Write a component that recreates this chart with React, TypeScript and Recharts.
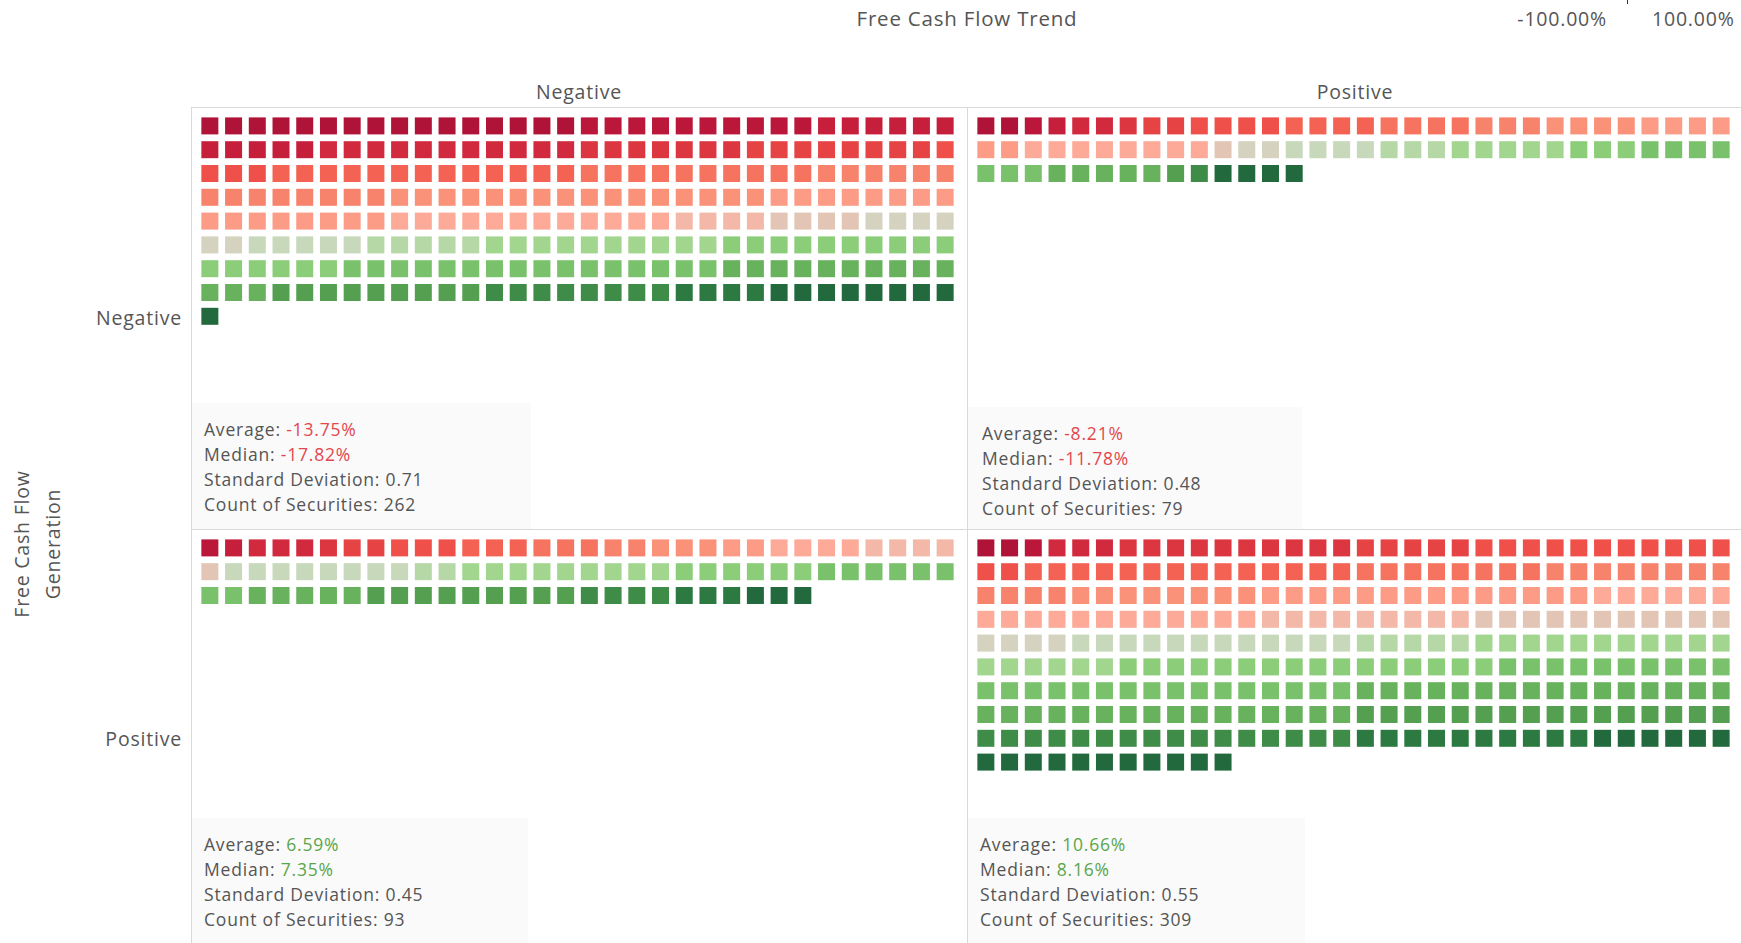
import React from 'react';
import { ScatterChart, Scatter, XAxis, YAxis, Cell } from 'recharts';

// colour bins, darkest red (most negative return) to darkest green
const BIN_COLORS = [
    '#b01338', '#bb173a', '#c61f3c', '#d12a3e', '#dc3640', '#e64344',
    '#ef5049', '#f36252', '#f6735f', '#f8836c', '#fa9179', '#fc9c86',
    '#fdaa98', '#f3b8a7', '#e2c5b4', '#d5d2bf', '#c8d8bb', '#b6d8a6',
    '#a2d68f', '#8ccd7a', '#7ac16b', '#68b15d', '#55a050', '#3f8c48',
    '#2c7a41', '#226a3d',
];

// securities per colour bin, per panel (generation / trend)
const NEG_NEG = [16, 10, 11, 11, 7, 8, 4, 13, 10, 14, 16, 16, 12, 4, 4, 6, 5, 5, 10, 16, 16, 13, 9, 8, 4, 9];
const NEG_POS = [2, 1, 1, 2, 1, 2, 4, 4, 4, 3, 4, 6, 8, 0, 1, 2, 4, 3, 5, 3, 7, 5, 1, 1, 0, 4];
const POS_NEG = [0, 1, 1, 3, 1, 2, 3, 3, 3, 2, 3, 2, 4, 4, 1, 0, 8, 2, 9, 6, 8, 5, 9, 4, 3, 3];
const POS_POS = [2, 1, 0, 3, 10, 5, 13, 14, 8, 12, 8, 14, 18, 9, 11, 4, 12, 5, 17, 16, 26, 32, 16, 16, 10, 17];

const AVERAGES = ['-13.75%', '-8.21%', '6.59%', '10.66%'];
const MEDIANS = ['-17.82%', '-11.78%', '7.35%', '8.16%'];
const STD_DEVS = ['0.71', '0.48', '0.45', '0.55'];
const COUNTS = [262, 79, 93, 309];

const COLS = 32;
const ROWS = 10;
const SQ = 17;
const CHART_W = 759;
const CHART_H = 238;

const FONT = '"Open Sans", Lato, sans-serif';
const TEXT = '#555555';
const RED = '#e3474d';
const GREEN = '#5aa64a';
const GRID = '#d9d9d9';

function toSquares(counts: number[]) {
    const out: { col: number; row: number; color: string }[] = [];
    let n = 0;
    counts.forEach((c, bin) => {
        for (let i = 0; i < c; i++) {
            out.push({ col: n % COLS, row: Math.floor(n / COLS), color: BIN_COLORS[bin] });
            n++;
        }
    });
    return out;
}

const Square = (props: any) => {
    const { cx, cy, payload } = props;
    if (cx == null || cy == null) return null;
    return <rect x={cx - SQ / 2} y={cy - SQ / 2} width={SQ} height={SQ} fill={payload.color} />;
};

function Waffle({ counts, left, top }: { counts: number[]; left: number; top: number }) {
    const data = toSquares(counts);
    return (
        <div style={{ position: 'absolute', left, top }}>
            <ScatterChart width={CHART_W} height={CHART_H} margin={{ top: 0, right: 0, bottom: 0, left: 0 }}>
                <XAxis type="number" dataKey="col" domain={[-0.5, COLS - 0.5]} hide />
                <YAxis type="number" dataKey="row" domain={[-0.5, ROWS - 0.5]} reversed hide />
                <Scatter data={data} shape={Square} isAnimationActive={false}>
                    {data.map((d, i) => (
                        <Cell key={i} fill={d.color} />
                    ))}
                </Scatter>
            </ScatterChart>
        </div>
    );
}

function StatsBox({ i, box, textLeft, textTop }: { i: number; box: [number, number, number, number]; textLeft: number; textTop: number }) {
    const valueColor = AVERAGES[i].startsWith('-') ? RED : GREEN;
    const line = { height: 25, lineHeight: '25px', whiteSpace: 'nowrap' as const };
    return (
        <>
            <div style={{ position: 'absolute', left: box[0], top: box[1], width: box[2], height: box[3], background: '#fafafa' }} />
            <div style={{ position: 'absolute', left: textLeft, top: textTop, fontSize: 17.5, letterSpacing: 0.8, color: TEXT, fontFamily: FONT }}>
                <div style={line}>Average: <span style={{ color: valueColor }}>{AVERAGES[i]}</span></div>
                <div style={line}>Median: <span style={{ color: valueColor }}>{MEDIANS[i]}</span></div>
                <div style={line}>Standard Deviation: {STD_DEVS[i]}</div>
                <div style={line}>Count of Securities: {COUNTS[i]}</div>
            </div>
        </>
    );
}

export default function App() {
    const abs = (s: React.CSSProperties): React.CSSProperties => ({ position: 'absolute', ...s });
    return (
        <div style={{ position: 'absolute', left: 0, top: 0, width: 1741, height: 943, overflow: 'hidden', background: '#fff', fontFamily: FONT, color: TEXT, letterSpacing: 0.8 }}>
            {/* title + colour legend */}
            <div style={abs({ left: 767, width: 400, top: 4, textAlign: 'center', fontSize: 20.5 })}>Free Cash Flow Trend</div>
            <div style={abs({ left: 1507, width: 100, top: 5, textAlign: 'right', fontSize: 19.5 })}>-100.00%</div>
            <div style={abs({ left: 1652, top: 5, fontSize: 19.5, whiteSpace: 'nowrap' })}>100.00%</div>
            <div style={abs({ left: 1627, top: 0, width: 1, height: 4, background: '#333' })} />

            {/* column headers */}
            <div style={abs({ left: 379, width: 400, top: 78, textAlign: 'center', fontSize: 19.5 })}>Negative</div>
            <div style={abs({ left: 1155, width: 400, top: 78, textAlign: 'center', fontSize: 19.5 })}>Positive</div>

            {/* row headers */}
            <div style={abs({ left: 40, width: 142, top: 304, textAlign: 'right', fontSize: 19.5 })}>Negative</div>
            <div style={abs({ left: 40, width: 142, top: 725, textAlign: 'right', fontSize: 19.5 })}>Positive</div>

            {/* axis title */}
            <div style={abs({ left: 37, top: 544, width: 0, height: 0 })}>
                <div style={{ position: 'absolute', left: -150, top: -31, width: 300, height: 62, transform: 'rotate(-90deg)', textAlign: 'center', fontSize: 19.5, lineHeight: '31px' }}>
                    Free Cash Flow<br />Generation
                </div>
            </div>

            {/* stats boxes */}
            <StatsBox i={0} box={[192, 403, 339, 126]} textLeft={204} textTop={417} />
            <StatsBox i={1} box={[968, 407, 334, 122]} textLeft={982} textTop={421} />
            <StatsBox i={2} box={[192, 818, 336, 125]} textLeft={204} textTop={832} />
            <StatsBox i={3} box={[968, 818, 337, 125]} textLeft={980} textTop={832} />

            {/* panel grid lines */}
            <div style={abs({ left: 191, top: 107, width: 1550, height: 1, background: GRID })} />
            <div style={abs({ left: 191, top: 529, width: 1550, height: 1, background: GRID })} />
            <div style={abs({ left: 191, top: 107, width: 1, height: 836, background: GRID })} />
            <div style={abs({ left: 967, top: 107, width: 1, height: 836, background: GRID })} />

            {/* waffles */}
            <Waffle counts={NEG_NEG} left={197.6} top={113.6} />
            <Waffle counts={NEG_POS} left={973.6} top={113.6} />
            <Waffle counts={POS_NEG} left={197.6} top={535.6} />
            <Waffle counts={POS_POS} left={973.6} top={535.6} />
        </div>
    );
}
